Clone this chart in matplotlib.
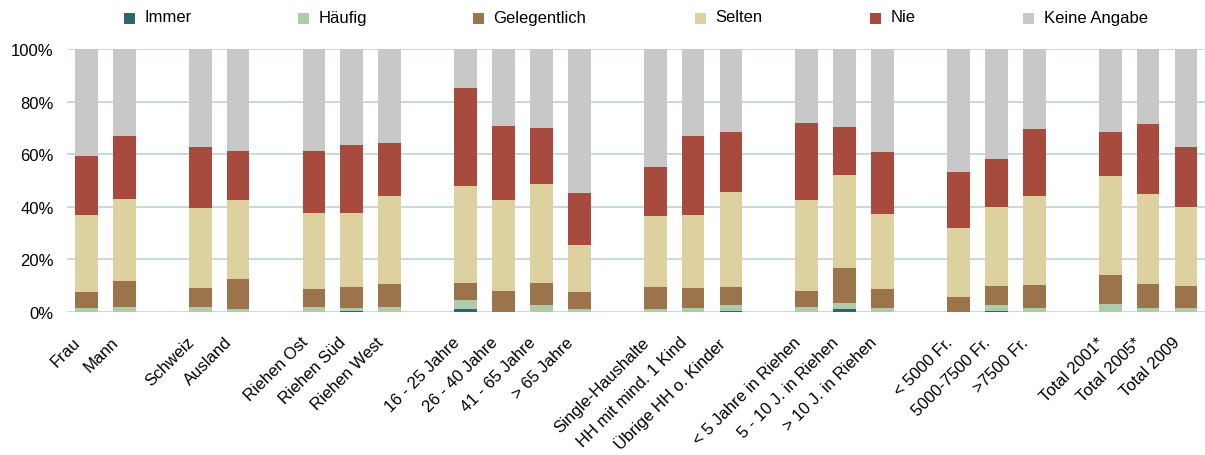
import numpy as np
import matplotlib
matplotlib.use("Agg")
import matplotlib.pyplot as plt
from matplotlib.patches import Rectangle
from matplotlib.transforms import ScaledTranslation

plt.rcParams['font.family'] = ['Liberation Sans', 'DejaVu Sans']

# slot positions (empty slots separate the groups)
categories = ['Frau', 'Mann', None, 'Schweiz', 'Ausland', None,
              'Riehen Ost', 'Riehen Süd', 'Riehen West', None,
              '16 - 25 Jahre', '26 - 40 Jahre', '41 - 65 Jahre', '> 65 Jahre', None,
              'Single-Haushalte', 'HH mit mind. 1 Kind', 'Übrige HH o. Kinder', None,
              '< 5 Jahre in Riehen', '5 - 10 J. in Riehen', '> 10 J. in Riehen', None,
              '< 5000 Fr.', '5000-7500 Fr.', '>7500 Fr.', None,
              'Total 2001*', 'Total 2005*', 'Total 2009']

series_names = ['Immer', 'Häufig', 'Gelegentlich', 'Selten', 'Nie', 'Keine Angabe']
colors = ['#2E6670', '#AECBAA', '#9C744C', '#DDD19F', '#A64B3E', '#C8C8C8']

# shares in % for the non-empty categories, in order
immer = [0, 0, 0, 0, 0, 0.4, 0, 1.0, 0, 0, 0, 0, 0, 0.4, 0, 1.0, 0, 0, 0.4, 0, 0, 0, 0]
haeufig = [1.5, 1.9, 1.9, 1.0, 1.8, 1.0, 1.8, 3.4, 0, 2.5, 1.0, 1.0, 1.4, 2.1, 1.8, 2.3, 1.4,
           0, 2.1, 1.4, 2.9, 1.4, 1.4]
gelegentlich = [6.0, 9.8, 7.1, 11.4, 6.8, 8.0, 8.7, 6.5, 7.9, 8.4, 6.5, 8.4, 7.6, 6.9, 6.1, 13.3, 7.2,
                5.6, 7.3, 8.8, 11.1, 9.1, 8.4]
selten = [29.3, 31.2, 30.5, 30.1, 29.0, 28.2, 33.5, 36.9, 34.6, 37.7, 17.9, 27.0, 27.8, 36.2, 34.6, 35.4, 28.6,
          26.3, 30.0, 33.8, 37.6, 34.3, 30.0]
nie = [22.5, 24.0, 23.2, 18.7, 23.6, 25.9, 20.2, 37.4, 28.2, 21.3, 19.8, 18.7, 30.1, 22.8, 29.3, 18.3, 23.6,
       21.3, 18.3, 25.5, 16.8, 26.6, 22.9]
keine_angabe = [40.7, 33.1, 37.3, 38.8, 38.8, 36.5, 35.8, 14.8, 29.3, 30.1, 54.8, 44.9, 33.1, 31.6, 28.2, 29.7, 39.2,
                46.8, 41.9, 30.5, 31.6, 28.6, 37.3]

series = [immer, haeufig, gelegentlich, selten, nie, keine_angabe]

fig = plt.figure(figsize=(12.05, 4.56), dpi=100)
ax = fig.add_axes([0.056, 0.3136, 0.944, 0.5764])

x = np.array([i for i, c in enumerate(categories) if c is not None])
labels = [c for c in categories if c is not None]

bottom = np.zeros(len(x))
for vals, col in zip(series, colors):
    v = np.array(vals) / 100.0
    ax.bar(x, v, width=0.6, bottom=bottom, color=col, linewidth=0, zorder=3)
    bottom += v

ax.set_xlim(-0.5, len(categories) - 0.5)
ax.set_ylim(0, 1)
ax.set_yticks(np.arange(0, 1.01, 0.2))
ax.set_yticklabels([f'{int(round(t * 100))}%' for t in np.arange(0, 1.01, 0.2)], fontsize=12)
ax.yaxis.grid(True, color='#C2D5DE', linewidth=1.3, zorder=0)
ax.set_axisbelow(True)
for s in ax.spines.values():
    s.set_visible(False)
ax.tick_params(axis='both', length=0)
ax.tick_params(axis='y', pad=10)
ax.set_xticks(x)
ax.set_xticklabels(labels, rotation=45, ha='right', va='top', rotation_mode='anchor', fontsize=12)
ax.tick_params(axis='x', pad=8)
shift = ScaledTranslation(-14 / 100, -11 / 100, fig.dpi_scale_trans)
for lab in ax.get_xticklabels():
    lab.set_transform(lab.get_transform() + shift)

# legend entries placed like the original (pixel positions of the squares)
W, H = 1205.0, 456.0
legend_x = [124, 298, 473, 695, 870, 1023]
for x0, name, col in zip(legend_x, series_names, colors):
    fig.add_artist(Rectangle((x0 / W, (H - 24.5) / H), 11 / W, 11 / H, transform=fig.transFigure,
                             color=col, linewidth=0))
    fig.text((x0 + 20.5) / W, (H - 18) / H, name, fontsize=12, va='center', ha='left')

fig.savefig('out.png', dpi=100)
